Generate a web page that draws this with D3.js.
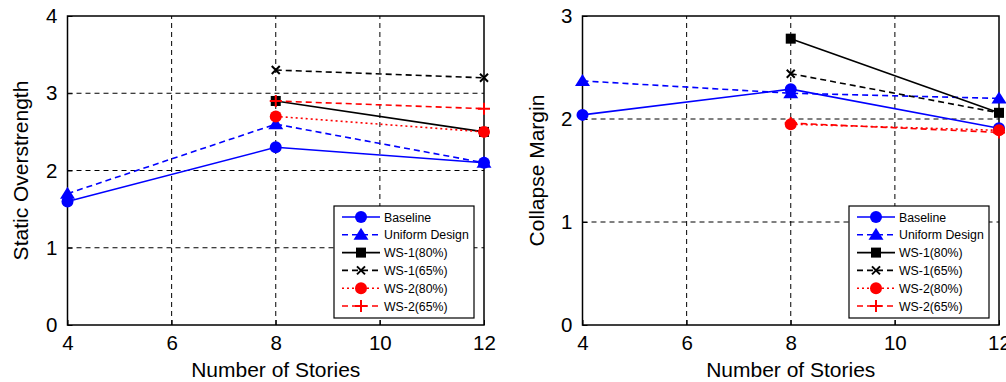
<!DOCTYPE html>
<html>
<head>
<meta charset="utf-8">
<script src="https://cdnjs.cloudflare.com/ajax/libs/d3/7.8.5/d3.min.js"></script>
<style>
  body { margin: 0; background: #fff; }
  svg { font-family: "Liberation Sans", Arial, sans-serif; }
</style>
</head>
<body>
<svg id="chart" width="1006" height="382"></svg>
<script>
// stories on the x axis
var stories = [4, 8, 12]
var seriesNames = ["Baseline", "Uniform Design", "WS-1(80%)", "WS-1(65%)", "WS-2(80%)", "WS-2(65%)"]

// static overstrength (null = no design)
var overBaseline = [1.6, 2.3, 2.1]
var overUniform = [1.7, 2.6, 2.1]
var overWs1_80 = [null, 2.9, 2.5]
var overWs1_65 = [null, 3.3, 3.2]
var overWs2_80 = [null, 2.7, 2.5]
var overWs2_65 = [null, 2.9, 2.8]

// collapse margin
var cmrBaseline = [2.04, 2.29, 1.91]
var cmrUniform = [2.37, 2.25, 2.2]
var cmrWs1_80 = [null, 2.78, 2.06]
var cmrWs1_65 = [null, 2.44, 2.06]
var cmrWs2_80 = [null, 1.95, 1.89]
var cmrWs2_65 = [null, 1.96, 1.87]

var xTicks = [4, 6, 8, 10, 12]

var styles = [
  { color: "#0000ff", dash: null, marker: "circle" },
  { color: "#0000ff", dash: "6,4", marker: "triangle" },
  { color: "#000000", dash: null, marker: "square" },
  { color: "#000000", dash: "6,4", marker: "x" },
  { color: "#ff0000", dash: "2,3", marker: "circle" },
  { color: "#ff0000", dash: "6,4", marker: "plus" }
]

var svg = d3.select("#chart")

function drawMarker(g, type, color, x, y) {
  if (type == "circle") {
    g.append("circle").attr("cx", x).attr("cy", y).attr("r", 6).attr("fill", color)
  } else if (type == "triangle") {
    g.append("path").attr("d", "M" + x + "," + (y - 7) + "L" + (x + 7.5) + "," + (y + 5) + "L" + (x - 7.5) + "," + (y + 5) + "Z").attr("fill", color)
  } else if (type == "square") {
    g.append("rect").attr("x", x - 5).attr("y", y - 5).attr("width", 10).attr("height", 10).attr("fill", color)
  } else if (type == "x") {
    g.append("path").attr("d", "M" + (x - 4) + "," + (y - 4) + "L" + (x + 4) + "," + (y + 4) + "M" + (x + 4) + "," + (y - 4) + "L" + (x - 4) + "," + (y + 4))
      .attr("stroke", color).attr("stroke-width", 2)
  } else if (type == "plus") {
    g.append("path").attr("d", "M" + (x - 6) + "," + y + "L" + (x + 6) + "," + y + "M" + x + "," + (y - 6) + "L" + x + "," + (y + 6))
      .attr("stroke", color).attr("stroke-width", 2)
  }
}

function panel(opts) {
  var x = d3.scaleLinear().domain([4, 12]).range([opts.left, opts.right])
  var y = d3.scaleLinear().domain([0, opts.yMax]).range([325, 16])
  var g = svg.append("g")

  // dashed grid
  g.append("g").selectAll("line").data(xTicks.slice(1, -1)).enter().append("line")
    .attr("x1", function (d) { return x(d) }).attr("x2", function (d) { return x(d) })
    .attr("y1", y(0)).attr("y2", y(opts.yMax))
    .attr("stroke", "#000").attr("stroke-width", 1).attr("stroke-dasharray", "5,4")
  g.append("g").selectAll("line").data(d3.range(1, opts.yMax)).enter().append("line")
    .attr("x1", x(4)).attr("x2", x(12))
    .attr("y1", function (d) { return y(d) }).attr("y2", function (d) { return y(d) })
    .attr("stroke", "#000").attr("stroke-width", 1).attr("stroke-dasharray", "5,4")

  // axes
  var xAxis = g.append("g").attr("transform", "translate(0," + y(0) + ")")
    .call(d3.axisBottom(x).tickValues(xTicks).tickSize(-5).tickPadding(10).tickFormat(d3.format("d")))
  var yAxis = g.append("g").attr("transform", "translate(" + x(4) + ",0)")
    .call(d3.axisLeft(y).tickValues(d3.range(0, opts.yMax + 1)).tickSize(-5).tickPadding(10).tickFormat(d3.format("d")))
  ;[xAxis, yAxis].forEach(function (a) {
    a.select(".domain").remove()
    a.selectAll("line").attr("stroke", "#000")
    a.selectAll("text").attr("font-size", 20.5).attr("fill", "#000")
      .attr("font-family", "Liberation Sans, Arial, sans-serif")
  })
  g.append("rect").attr("x", x(4)).attr("y", y(opts.yMax))
    .attr("width", x(12) - x(4)).attr("height", y(0) - y(opts.yMax))
    .attr("fill", "none").attr("stroke", "#000").attr("stroke-width", 1.5)

  // series
  opts.series.forEach(function (vals, i) {
    var st = styles[i]
    var pts = stories.map(function (s, j) { return [s, vals[j]] }).filter(function (p) { return p[1] != null })
    g.append("path").datum(pts)
      .attr("d", d3.line().x(function (p) { return x(p[0]) }).y(function (p) { return y(p[1]) }))
      .attr("fill", "none").attr("stroke", st.color).attr("stroke-width", 1.6)
      .attr("stroke-dasharray", st.dash)
    pts.forEach(function (p) { drawMarker(g, st.marker, st.color, x(p[0]), y(p[1])) })
  })

  // labels
  g.append("text").attr("x", (x(4) + x(12)) / 2).attr("y", 377).attr("text-anchor", "middle")
    .attr("font-size", 21).text("Number of Stories")
  g.append("text").attr("transform", "translate(" + opts.yLabelX + "," + ((y(0) + y(opts.yMax)) / 2) + ") rotate(-90)")
    .attr("text-anchor", "middle").attr("font-size", 21).text(opts.yLabel)

  // legend
  var lx = opts.legendX, ly = 206
  var lg = g.append("g")
  lg.append("rect").attr("x", lx).attr("y", ly).attr("width", 140).attr("height", 112)
    .attr("fill", "#fff").attr("stroke", "#000").attr("stroke-width", 1.2)
  seriesNames.forEach(function (name, i) {
    var st = styles[i]
    var yy = ly + 11 + i * 17.8
    lg.append("line").attr("x1", lx + 8).attr("x2", lx + 46).attr("y1", yy).attr("y2", yy)
      .attr("stroke", st.color).attr("stroke-width", 1.6).attr("stroke-dasharray", st.dash)
    drawMarker(lg, st.marker, st.color, lx + 27, yy)
    lg.append("text").attr("x", lx + 50).attr("y", yy + 4.5).attr("font-size", 12.3).text(name)
  })
}

panel({
  left: 67.5, right: 484, yMax: 4, yLabel: "Static Overstrength", yLabelX: 28, legendX: 334,
  series: [overBaseline, overUniform, overWs1_80, overWs1_65, overWs2_80, overWs2_65]
})
panel({
  left: 582.5, right: 999, yMax: 3, yLabel: "Collapse Margin", yLabelX: 544, legendX: 849,
  series: [cmrBaseline, cmrUniform, cmrWs1_80, cmrWs1_65, cmrWs2_80, cmrWs2_65]
})
</script>
</body>
</html>
